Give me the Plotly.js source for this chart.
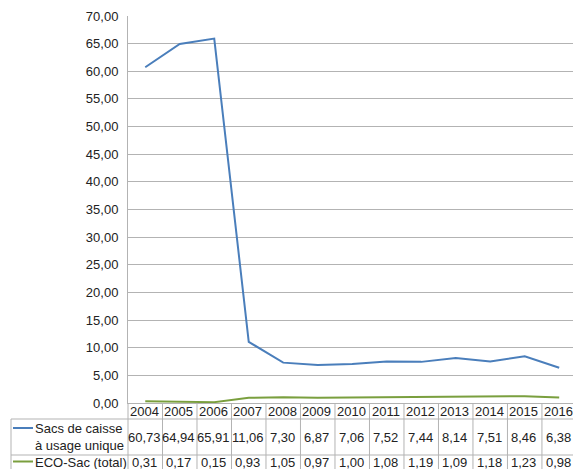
<!DOCTYPE html>
<html>
<head>
<meta charset="utf-8">
<script src="https://cdn.plot.ly/plotly-3.0.1.min.js"></script>
<style>html,body{margin:0;padding:0;background:#fff;}#chart{width:573px;height:469px;}</style>
</head>
<body>
<div id="chart"></div>
<script>
var years = ["2004","2005","2006","2007","2008","2009","2010","2011","2012","2013","2014","2015","2016"];
var sacsCaisse = [60.73, 64.94, 65.91, 11.06, 7.30, 6.87, 7.06, 7.52, 7.44, 8.14, 7.51, 8.46, 6.38];
var ecoSac = [0.31, 0.17, 0.15, 0.93, 1.05, 0.97, 1.00, 1.08, 1.19, 1.09, 1.18, 1.23, 0.98];
var seriesNames = ["Sacs de caisse<br>à usage unique", "ECO-Sac (total)"];
var seriesColors = ["#4a7ebb", "#7a9f3e"];

var W = 573, H = 469, ML = 128, MR = 0, MT = 16, MB = 66;
var plotH = H - MT - MB, plotW = W - ML - MR;
function py(p) { return (H - MB - p) / plotH; }
function px(p) { return (p - ML) / plotW; }
function fmt(v) { return v.toFixed(2).replace('.', ','); }

var gridCol = "#b3b3b3";
var txtCol = "#222";
var fontFam = "Liberation Sans, Arial, sans-serif";

var traces = [
  {x: years, y: sacsCaisse, type: "scatter", mode: "lines", name: "Sacs de caisse à usage unique",
   line: {color: seriesColors[0], width: 2}, hoverinfo: "skip"},
  {x: years, y: ecoSac, type: "scatter", mode: "lines", name: "ECO-Sac (total)",
   line: {color: seriesColors[1], width: 2}, hoverinfo: "skip"}
];

var shapes = [];
var annotations = [];
var tblFont = {family: fontFam, size: 13, color: txtCol};

[419, 455].forEach(function(p) {
  shapes.push({type: "line", xref: "paper", yref: "paper", x0: px(11), x1: 1, y0: py(p), y1: py(p),
    line: {color: gridCol, width: 1}});
});
shapes.push({type: "line", xref: "paper", yref: "paper", x0: px(11), x1: px(11), y0: py(419), y1: py(470),
  line: {color: gridCol, width: 1}});
shapes.push({type: "line", xref: "paper", yref: "paper", x0: 0, x1: 0, y0: 0, y1: py(470),
  line: {color: gridCol, width: 1}});
for (var i = 0; i < years.length; i++) {
  shapes.push({type: "line", xref: "x", yref: "paper", x0: i + 0.5, x1: i + 0.5, y0: 0, y1: py(470),
    line: {color: gridCol, width: 1}});
}
shapes.push({type: "line", xref: "paper", yref: "paper", x0: px(13), x1: px(33), y0: py(428), y1: py(428),
  line: {color: seriesColors[0], width: 2}});
shapes.push({type: "line", xref: "paper", yref: "paper", x0: px(13), x1: px(33), y0: py(461.5), y1: py(461.5),
  line: {color: seriesColors[1], width: 2}});

annotations.push({xref: "paper", yref: "paper", x: px(33), y: py(436.5), xanchor: "left", yanchor: "middle",
  text: seriesNames[0], showarrow: false, align: "left", font: tblFont});
annotations.push({xref: "paper", yref: "paper", x: px(33), y: py(462), xanchor: "left", yanchor: "middle",
  text: seriesNames[1], showarrow: false, align: "left", font: tblFont});

for (var j = 0; j < years.length; j++) {
  annotations.push({xref: "x", yref: "paper", x: j, y: py(411), xanchor: "center", yanchor: "middle",
    text: years[j], showarrow: false, font: tblFont, xshift: -1});
  annotations.push({xref: "x", yref: "paper", x: j, y: py(437), xanchor: "center", yanchor: "middle",
    text: fmt(sacsCaisse[j]), showarrow: false, font: tblFont, xshift: -1});
  annotations.push({xref: "x", yref: "paper", x: j, y: py(462), xanchor: "center", yanchor: "middle",
    text: fmt(ecoSac[j]), showarrow: false, font: tblFont, xshift: -1});
}

var layout = {
  width: W, height: H,
  margin: {l: ML, r: MR, t: MT, b: MB, pad: 0},
  paper_bgcolor: "#fff", plot_bgcolor: "#fff",
  separators: ", ",
  showlegend: false,
  font: {family: fontFam, size: 13, color: txtCol},
  xaxis: {type: "category", range: [-0.5, 12.4], showticklabels: false, showgrid: false,
    zeroline: false, showline: true, linecolor: gridCol, linewidth: 1, ticks: "", fixedrange: true},
  yaxis: {range: [0, 70], dtick: 5, tick0: 0, tickformat: ".2f", showgrid: true, gridcolor: gridCol, gridwidth: 1,
    zeroline: false, showline: true, linecolor: gridCol, linewidth: 1, ticks: "", ticklabelstandoff: 6,
    tickfont: {family: fontFam, size: 13, color: txtCol}, fixedrange: true},
  shapes: shapes,
  annotations: annotations
};

Plotly.newPlot("chart", traces, layout, {staticPlot: true, displayModeBar: false});
</script>
</body>
</html>
